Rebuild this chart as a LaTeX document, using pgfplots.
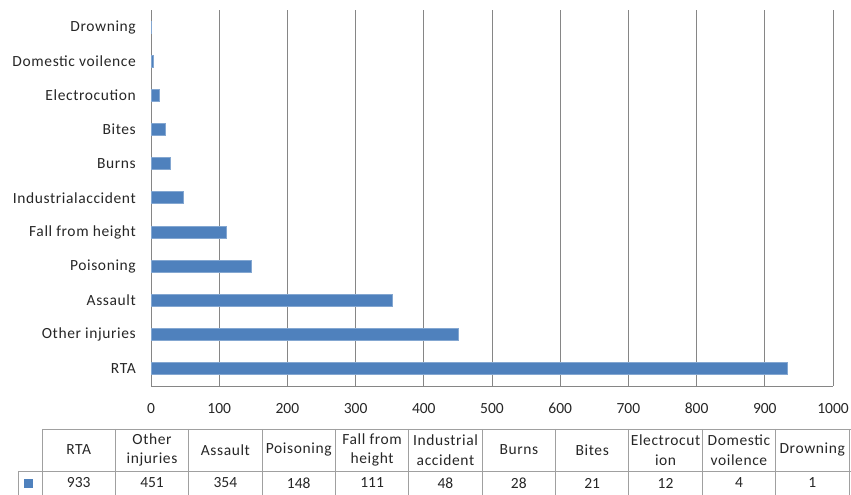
\documentclass[border=0pt]{standalone}
\usepackage{pgfplots}
\pgfplotsset{compat=1.18}
\usepackage{fontspec}
\setmainfont{Carlito}
\newfontfamily\lab{Carlito}[LetterSpace=4]
\definecolor{barblue}{HTML}{4F81BD}
\definecolor{gridgray}{HTML}{868686}
\definecolor{tabgray}{HTML}{A0A0A0}
\definecolor{txt}{HTML}{262626}
\begin{document}
\begin{tikzpicture}[x=1pt,y=1pt]
\useasboundingbox (0,0) rectangle (851,495);
\begin{axis}[
  at={(151pt,109pt)}, anchor=south west,
  scale only axis, width=682pt, height=376pt,
  xbar, bar width=12pt,
  xmin=0, xmax=1000, ymin=-0.5, ymax=10.5,
  xtick={0,100,...,1000},
  ytick={0,...,10},
  yticklabels={RTA,Other injuries,Assault,Poisoning,Fall from height,Industrialaccident,Burns,Bites,Electrocution,Domestic voilence,Drowning},
  xmajorgrids, grid style={gridgray, line width=0.8pt},
  separate axis lines,
  axis x line*=bottom, axis y line*=left,
  axis line style={-, draw=gridgray, line width=0.8pt},
  major tick length=0pt,
  /pgf/number format/assume math mode=true,
  /pgf/number format/1000 sep={},
  tick label style={font=\fontsize{15.5}{18}\selectfont, text=txt, inner sep=0pt},
  yticklabel style={xshift=-15pt, font=\fontsize{15.5}{18}\selectfont\lab},
  xticklabel style={yshift=-17pt},
  legend style={at={(-0.1796,-0.258)}, anchor=center, draw=none, fill=none, inner sep=0pt, outer sep=0pt, nodes={inner sep=0pt}},
  legend image code/.code={\fill[barblue] (-4pt,-4pt) rectangle (4pt,4pt);},
]
\addplot[fill=barblue, draw=barblue!70!white, line width=1pt] coordinates {
(933,0) (451,1) (354,2) (148,3) (111,4) (48,5) (28,6) (21,7) (12,8) (4,9) (1,10)};
\addlegendentry{}
\end{axis}
% data table
\draw[tabgray, line width=0.8pt] (42,66) -- (851,66);
\draw[tabgray, line width=0.8pt] (18,24) -- (851,24);
\draw[tabgray, line width=0.8pt] (18,24) -- (18,0);
\foreach \i in {0,...,11} {
  \draw[tabgray, line width=0.8pt] ({42+73.36*\i},66) -- ({42+73.36*\i},0);
}
\foreach \i/\h/\v in {0/RTA/933, 1/{Other\\injuries}/451, 2/Assault/354, 3/Poisoning/148, 4/{Fall from\\height}/111, 5/{Industrial\\accident}/48, 6/Burns/28, 7/Bites/21, 8/{Electrocut\\ion}/12, 9/{Domestic\\voilence}/4, 10/Drowning/1} {
  \node[align=center, text=txt, font=\fontsize{15.5}{19.5}\selectfont\lab, inner sep=0pt] at ({42+73.36*\i+36.68},45) {\h};
  \node[text=txt, font=\fontsize{15.5}{18}\selectfont, inner sep=0pt] at ({42+73.36*\i+36.68},12) {\v};
}
\end{tikzpicture}
\end{document}
